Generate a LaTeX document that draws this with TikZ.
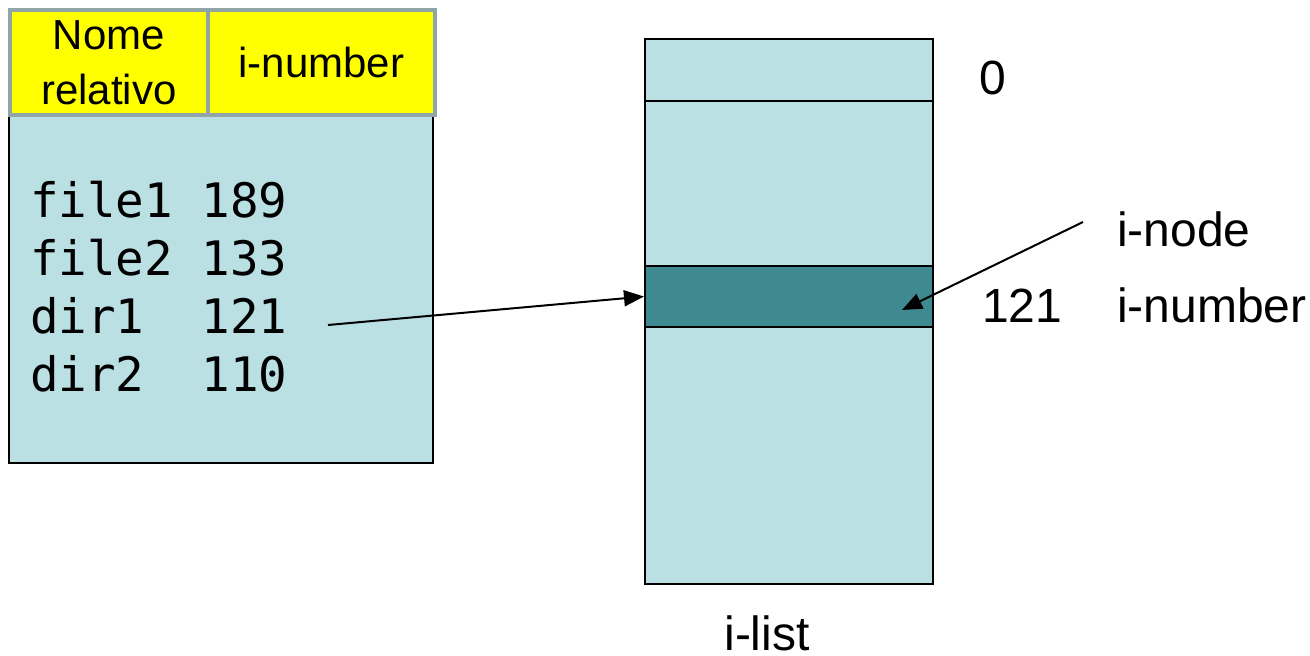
\documentclass[tikz,border=0pt]{standalone}
\usepackage{fontspec}
\setmainfont{Liberation Sans}
\setmonofont{DejaVu Sans Mono}
\usetikzlibrary{arrows.meta}
\definecolor{lightcell}{HTML}{BAE0E3}
\definecolor{darkcell}{HTML}{3E8A90}
\definecolor{hdrborder}{HTML}{8FA5A8}
\definecolor{hdryellow}{HTML}{FFFF00}
\tikzset{
  hdrcell/.style={draw=hdrborder, line width=4pt, fill=hdryellow, inner sep=0pt, anchor=north west, align=center,
    font=\fontsize{42}{52}\selectfont},
  listcell/.style={draw=black, line width=2pt, fill=lightcell, inner sep=0pt, anchor=north west, minimum width=288pt},
  biglabel/.style={font=\fontsize{48}{56}\selectfont, inner sep=0pt},
  ptr/.style={line width=2pt, -{Triangle[length=20pt,width=16pt]}}
}
\begin{document}
\begin{tikzpicture}[x=1pt,y=-1pt]
\useasboundingbox (0,0) rectangle (1310,656);
% directory table
\node[draw=black, line width=2pt, fill=lightcell, inner sep=0pt, anchor=north west,
      minimum width=424pt, minimum height=349pt] (body) at (8,113) {};
\node[hdrcell, minimum width=198pt, minimum height=105pt] (hname) at (8,8) {\raisebox{3pt}{Nome}\\relativo};
\node[hdrcell, minimum width=227pt, minimum height=105pt] (hnum) at (206,8) {i-number};
\node[anchor=base west, inner sep=0pt, align=left, font=\ttfamily\fontsize{47.5}{57.8}\selectfont] (entries) at (30,391)
  {file1 189\\file2 133\\dir1\ \ 121\\dir2\ \ 110};
\coordinate (dirstart) at (328,325);
% i-list column
\node[listcell, minimum height=62pt] (c0) at (644,38) {};
\node[listcell, minimum height=165pt] (c1) at (644,100) {};
\node[listcell, fill=darkcell, minimum height=61pt] (band) at (644,265) {};
\node[listcell, minimum height=257pt] (c3) at (644,326) {};
% labels
\node[biglabel, anchor=base] (zero) at (993,94) {0};
\node[biglabel, anchor=base west] (inode) at (1117,246) {i-node};
\node[biglabel, anchor=base west] (num121) at (982,322) {121};
\node[biglabel, anchor=base west] (inum) at (1117,322) {i-number};
\node[biglabel, anchor=base, text depth=0pt] (ilist) at (767,650) {i-list};
\coordinate (inodestart) at (1083,222);
\coordinate (inodetip) at (902,310);
% connectors
\draw[ptr] (dirstart) -- (band.west);
\draw[ptr] (inodestart) -- (inodetip);
\end{tikzpicture}
\end{document}
